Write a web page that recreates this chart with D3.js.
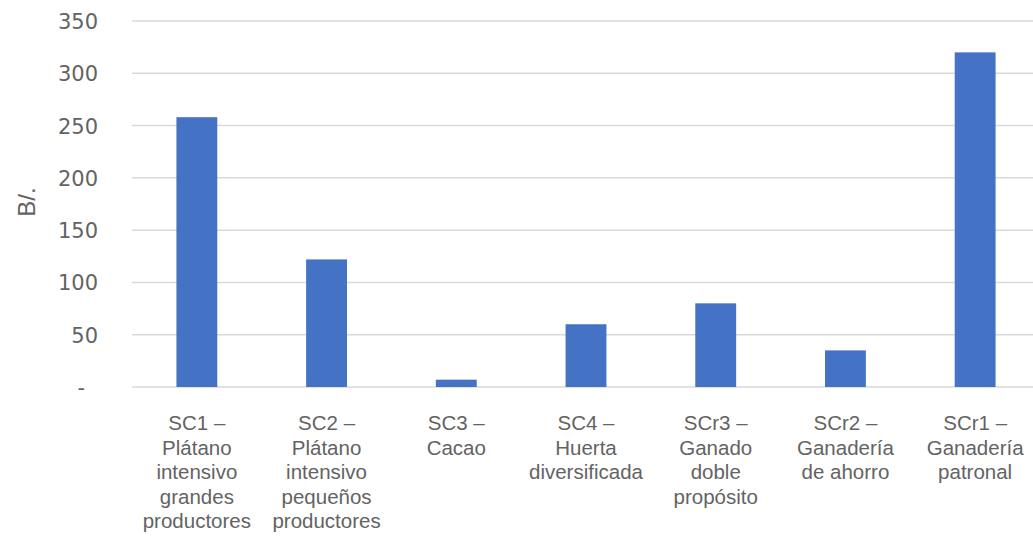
<!DOCTYPE html>
<html>
<head>
<meta charset="utf-8">
<script src="https://cdn.jsdelivr.net/npm/d3@7"></script>
<style>
  body { margin: 0; background: #fff; }
  svg { display: block; }
</style>
</head>
<body>
<div id="chart"></div>
<script>
// data
const categories = [
    ["SC1 –", "Plátano", "intensivo", "grandes", "productores"],
    ["SC2 –", "Plátano", "intensivo", "pequeños", "productores"],
    ["SC3 –", "Cacao"],
    ["SC4 –", "Huerta", "diversificada"],
    ["SCr3 –", "Ganado", "doble", "propósito"],
    ["SCr2 –", "Ganadería", "de ahorro"],
    ["SCr1 –", "Ganadería", "patronal"]
];
const values = [258, 122, 7, 60, 80, 35, 320];
const yTicks = [0, 50, 100, 150, 200, 250, 300, 350];
const yLabel = "B/.";

const width = 1033, height = 540;
const plot = { left: 132, right: 1040, top: 21, bottom: 387 };
const textColor = "#636363";

const svg = d3.select("#chart").append("svg")
    .attr("width", width)
    .attr("height", height);

const keys = categories.map((c, i) => i);

const x = d3.scaleBand()
    .domain(keys)
    .range([plot.left, plot.right])
    .paddingInner(0.685)
    .paddingOuter(0.3425);

const y = d3.scaleLinear()
    .domain([0, 350])
    .range([plot.bottom, plot.top]);

// gridlines
svg.append("g")
    .selectAll("line")
    .data(yTicks)
    .join("line")
    .attr("x1", plot.left)
    .attr("x2", plot.right)
    .attr("y1", d => y(d))
    .attr("y2", d => y(d))
    .attr("stroke", "#d9d9d9")
    .attr("stroke-width", 1.5);

// y axis labels
const yAxis = svg.append("g")
    .attr("transform", `translate(${plot.left - 34},0)`)
    .call(d3.axisLeft(y).tickValues(yTicks).tickSize(0).tickPadding(0)
        .tickFormat(d => d === 0 ? "-" : d));
yAxis.select(".domain").remove();
yAxis.selectAll("text")
    .attr("font-family", "DejaVu Sans, sans-serif")
    .attr("font-size", "21px")
    .attr("fill", textColor)
    .attr("dy", "0.36em")
    .attr("dx", d => d === 0 ? -13 : 0);

// bars
svg.append("g")
    .selectAll("rect")
    .data(values)
    .join("rect")
    .attr("x", (d, i) => x(i))
    .attr("width", x.bandwidth())
    .attr("y", d => y(d))
    .attr("height", d => y(0) - y(d))
    .attr("fill", "#4472c4");

// x labels
const xLabels = svg.append("g")
    .selectAll("text")
    .data(categories)
    .join("text")
    .attr("x", (d, i) => x(i) + x.bandwidth() / 2)
    .attr("y", 430)
    .attr("text-anchor", "middle")
    .attr("font-family", "Liberation Sans, Arial, sans-serif")
    .attr("font-size", "20.5px")
    .attr("fill", textColor);

xLabels.selectAll("tspan")
    .data(d => d)
    .join("tspan")
    .attr("x", function () { return d3.select(this.parentNode).attr("x"); })
    .attr("dy", (d, i) => i === 0 ? 0 : 24.5)
    .text(d => d);

// y axis title
svg.append("text")
    .attr("transform", "translate(35,202) rotate(-90)")
    .attr("text-anchor", "middle")
    .attr("font-family", "Liberation Sans, Arial, sans-serif")
    .attr("font-size", "24px")
    .attr("fill", textColor)
    .text(yLabel);
</script>
</body>
</html>
